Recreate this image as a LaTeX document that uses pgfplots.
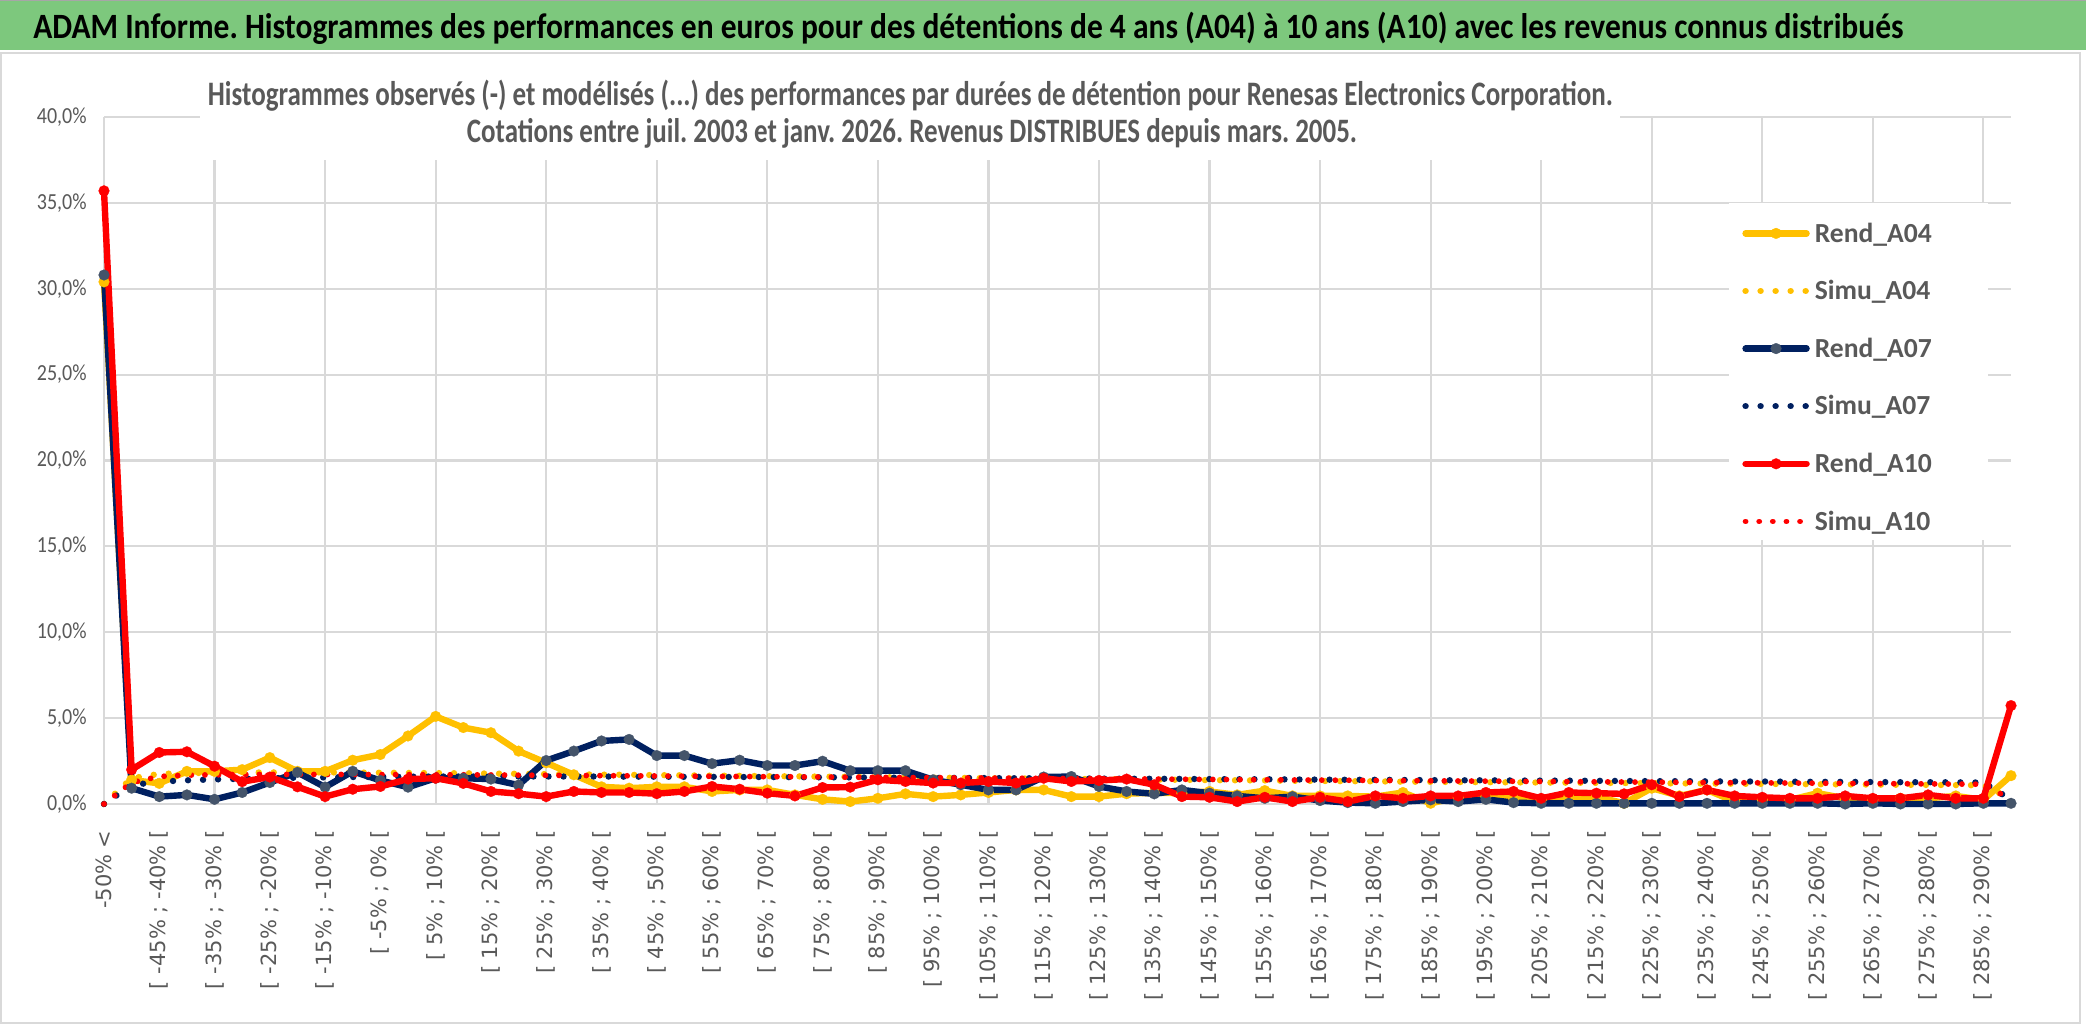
\documentclass[border=0pt]{standalone}
\usepackage{fontspec}
\setmainfont{Carlito}
\newfontfamily\dejavu{DejaVu Sans}
\usepackage{graphicx}
\usepackage{pgfplots}
\usepackage{pgfplotstable}
\pgfplotsset{compat=1.18}
\pgfplotsset{legend image code/.code={\draw[#1, mark repeat=2, mark phase=2] plot coordinates {(0pt,0pt) (15.25pt,0pt) (30.5pt,0pt)};}}

\definecolor{cgold}{HTML}{FFC000}
\definecolor{cnavy}{HTML}{002060}
\definecolor{cslate}{HTML}{44546A}
\definecolor{cred}{HTML}{FF0000}
\definecolor{tgray}{HTML}{595959}
\definecolor{ggray}{HTML}{D9D9D9}
\definecolor{bargreen}{RGB}{125,200,125}

\newcommand{\yl}[1]{\scalebox{1}[1.15]{#1}}

\pgfplotstableread{
i a04 s04 a07 s07 a10 s10
0 30.4 0.00 30.8 0.00 35.7 0.00
1 1.4 1.50 0.92 1.10 2.0 1.25
2 1.2 1.75 0.43 1.30 3.0 1.60
3 1.9 1.80 0.53 1.38 3.04 1.68
4 1.9 1.82 0.27 1.43 2.2 1.70
5 2.0 1.83 0.67 1.47 1.3 1.72
6 2.7 1.84 1.25 1.50 1.57 1.72
7 1.9 1.84 1.84 1.53 1.0 1.72
8 1.9 1.84 0.98 1.55 0.43 1.72
9 2.55 1.83 1.9 1.57 0.86 1.72
10 2.88 1.82 1.37 1.58 1.02 1.71
11 3.96 1.81 0.98 1.59 1.45 1.71
12 5.1 1.80 1.5 1.60 1.5 1.70
13 4.45 1.79 1.5 1.60 1.2 1.70
14 4.15 1.77 1.45 1.60 0.73 1.69
15 3.08 1.76 1.1 1.60 0.6 1.68
16 2.4 1.74 2.53 1.60 0.43 1.67
17 1.7 1.73 3.08 1.60 0.73 1.66
18 1.0 1.71 3.67 1.60 0.67 1.65
19 0.92 1.70 3.76 1.59 0.67 1.64
20 1.0 1.68 2.82 1.59 0.6 1.63
21 1.0 1.67 2.82 1.58 0.73 1.62
22 0.73 1.65 2.35 1.58 1.02 1.61
23 0.82 1.64 2.55 1.57 0.86 1.60
24 0.82 1.62 2.24 1.57 0.63 1.59
25 0.53 1.61 2.24 1.56 0.47 1.58
26 0.27 1.59 2.49 1.55 0.96 1.57
27 0.14 1.58 1.94 1.55 0.98 1.56
28 0.33 1.56 1.94 1.54 1.41 1.55
29 0.59 1.55 1.94 1.53 1.31 1.54
30 0.43 1.53 1.41 1.52 1.22 1.53
31 0.53 1.52 1.12 1.52 1.22 1.52
32 0.67 1.50 0.82 1.51 1.31 1.51
33 0.82 1.49 0.82 1.50 1.22 1.50
34 0.82 1.47 1.57 1.50 1.5 1.49
35 0.43 1.46 1.6 1.49 1.31 1.48
36 0.43 1.45 1.02 1.48 1.37 1.47
37 0.6 1.43 0.73 1.47 1.45 1.46
38 0.65 1.42 0.59 1.47 1.12 1.45
39 0.63 1.41 0.82 1.46 0.43 1.44
40 0.73 1.39 0.63 1.45 0.39 1.43
41 0.53 1.38 0.47 1.44 0.14 1.42
42 0.78 1.37 0.33 1.44 0.39 1.41
43 0.47 1.35 0.43 1.43 0.14 1.40
44 0.47 1.34 0.2 1.42 0.39 1.39
45 0.47 1.33 0.08 1.41 0.14 1.38
46 0.43 1.32 0.04 1.41 0.47 1.37
47 0.67 1.30 0.14 1.40 0.33 1.36
48 0.04 1.29 0.24 1.39 0.47 1.35
49 0.39 1.28 0.14 1.38 0.47 1.34
50 0.43 1.27 0.27 1.38 0.67 1.33
51 0.33 1.26 0.08 1.37 0.73 1.32
52 0.24 1.25 0.04 1.36 0.33 1.31
53 0.43 1.24 0.04 1.36 0.67 1.30
54 0.43 1.23 0.04 1.35 0.63 1.29
55 0.04 1.22 0.04 1.34 0.59 1.28
56 0.92 1.21 0.04 1.33 1.12 1.27
57 0.47 1.20 0.04 1.33 0.43 1.26
58 0.82 1.19 0.04 1.32 0.82 1.25
59 0.14 1.18 0.04 1.31 0.47 1.24
60 0.24 1.17 0.04 1.31 0.39 1.23
61 0.24 1.16 0.04 1.30 0.33 1.22
62 0.63 1.15 0.04 1.29 0.33 1.21
63 0.33 1.14 0.0 1.29 0.47 1.20
64 0.24 1.13 0.04 1.28 0.33 1.19
65 0.33 1.12 0.0 1.27 0.33 1.18
66 0.33 1.11 0.0 1.27 0.53 1.17
67 0.47 1.10 0.0 1.26 0.33 1.16
68 0.24 1.09 0.04 1.25 0.33 1.15
69 1.65 0.30 0.04 0.25 5.73 0.25
}\data

\begin{document}
\frenchspacing
\begin{tikzpicture}[x=1pt,y=1pt]
\useasboundingbox (0,0) rectangle (1043,515.5);
\fill[white] (0,0) rectangle (1043,515.5);
\fill[bargreen] (0,490.5) rectangle (1043,515.5);
\draw[gray!70, line width=0.6pt] (0,515.2) -- (1043,515.2);
\draw[ggray, line width=0.9pt] (0.5,4) rectangle (1040,489);
\node[anchor=base west, inner sep=0pt] at (16.5,496) {\scalebox{1}[1.13]{\resizebox{935pt}{!}{\bfseries ADAM Informe. Histogrammes des performances en euros pour des détentions de 4 ans (A04) à 10 ans (A10) avec les revenus connus distribués}}};

\begin{axis}[
  at={(52pt,113.5pt)}, anchor=south west,
  scale only axis, width=953.5pt, height=343.5pt,
  xmin=0, xmax=69, ymin=0, ymax=40,
  clip=false,
  axis line style={draw=none},
  major tick length=0pt,
  tick style={draw=none},
  ytick={0,5,...,40},
  yticklabels={{\yl{0,0\%}},{\yl{5,0\%}},{\yl{10,0\%}},{\yl{15,0\%}},{\yl{20,0\%}},{\yl{25,0\%}},{\yl{30,0\%}},{\yl{35,0\%}},{\yl{40,0\%}}},
  yticklabel style={inner sep=0pt, font=\fontsize{10}{12}\selectfont, text=tgray},
  yticklabel shift=8.5pt,
  ymajorgrids=true,
  major grid style={ggray, line width=1.1pt},
  xtick={0,2,...,68},
  xticklabels={{-50\% <},{[ -45\% ; -40\% [},{[ -35\% ; -30\% [},{[ -25\% ; -20\% [},{[ -15\% ; -10\% [},{[ -5\% ; 0\% [},{[ 5\% ; 10\% [},{[ 15\% ; 20\% [},{[ 25\% ; 30\% [},{[ 35\% ; 40\% [},{[ 45\% ; 50\% [},{[ 55\% ; 60\% [},{[ 65\% ; 70\% [},{[ 75\% ; 80\% [},{[ 85\% ; 90\% [},{[ 95\% ; 100\% [},{[ 105\% ; 110\% [},{[ 115\% ; 120\% [},{[ 125\% ; 130\% [},{[ 135\% ; 140\% [},{[ 145\% ; 150\% [},{[ 155\% ; 160\% [},{[ 165\% ; 170\% [},{[ 175\% ; 180\% [},{[ 185\% ; 190\% [},{[ 195\% ; 200\% [},{[ 205\% ; 210\% [},{[ 215\% ; 220\% [},{[ 225\% ; 230\% [},{[ 235\% ; 240\% [},{[ 245\% ; 250\% [},{[ 255\% ; 260\% [},{[ 265\% ; 270\% [},{[ 275\% ; 280\% [},{[ 285\% ; 290\% [}},
  xticklabel style={rotate=90, anchor=east, inner sep=0pt, font=\dejavu\fontsize{10.5}{12}\selectfont, text=tgray},
  xticklabel shift=13pt,
  extra x ticks={0,4,...,68},
  extra x tick labels={},
  extra x tick style={xmajorgrids=true, major tick length=0pt},
  legend style={at={(0.8521,0.8748)}, anchor=north west, draw=none, fill=none,
    inner xsep=6.5pt, inner ysep=7.65pt, row sep=14.1pt, column sep=2.5pt,
    font=\fontsize{13.8}{16}\selectfont\bfseries, text=tgray,
    nodes={inner sep=0pt, text height=11.7pt, text depth=3pt, anchor=west}},
  legend cell align=left,
]
\fill[white] (rel axis cs:0.8521,0.3843) rectangle (rel axis cs:0.9880,0.8748);
\addplot[cgold, line width=3.2pt, line join=round, line cap=round, mark=*, mark size=2.7pt, mark options={solid, fill=cgold, draw=cgold, line width=0.1pt}] table[x=i,y=a04]{\data};
\addlegendentry{Rend\_A04}
\addplot[cgold, line width=3.2pt, line cap=round, dash pattern=on 0.01pt off 7.5pt] table[x=i,y=s04]{\data};
\addlegendentry{Simu\_A04}
\addplot[cnavy, line width=3.2pt, line join=round, line cap=round, mark=*, mark size=2.7pt, mark options={solid, fill=cslate, draw=cslate, line width=0.1pt}] table[x=i,y=a07]{\data};
\addlegendentry{Rend\_A07}
\addplot[cnavy, line width=3.2pt, line cap=round, dash pattern=on 0.01pt off 7.5pt] table[x=i,y=s07]{\data};
\addlegendentry{Simu\_A07}
\addplot[cred, line width=3.2pt, line join=round, line cap=round, mark=*, mark size=2.7pt, mark options={solid, fill=cred, draw=cred, line width=0.1pt}] table[x=i,y=a10]{\data};
\addlegendentry{Rend\_A10}
\addplot[cred, line width=2.9pt, line cap=round, dash pattern=on 0.01pt off 6.8pt] table[x=i,y=s10]{\data};
\addlegendentry{Simu\_A10}
\end{axis}

\fill[white] (100,435.5) rectangle (810,461);
\node[anchor=base, inner sep=0pt, text=tgray] at (455.25,462.5) {\scalebox{1}[1.27]{\resizebox{702.5pt}{!}{\bfseries Histogrammes observés (-) et modélisés (...) des performances par durées de détention pour Renesas Electronics Corporation.}}};
\node[anchor=base, inner sep=0pt, text=tgray] at (456,444) {\scalebox{1}[1.27]{\resizebox{445pt}{!}{\bfseries Cotations entre juil. 2003 et janv. 2026. Revenus DISTRIBUES depuis mars. 2005.}}};
\end{tikzpicture}
\end{document}
